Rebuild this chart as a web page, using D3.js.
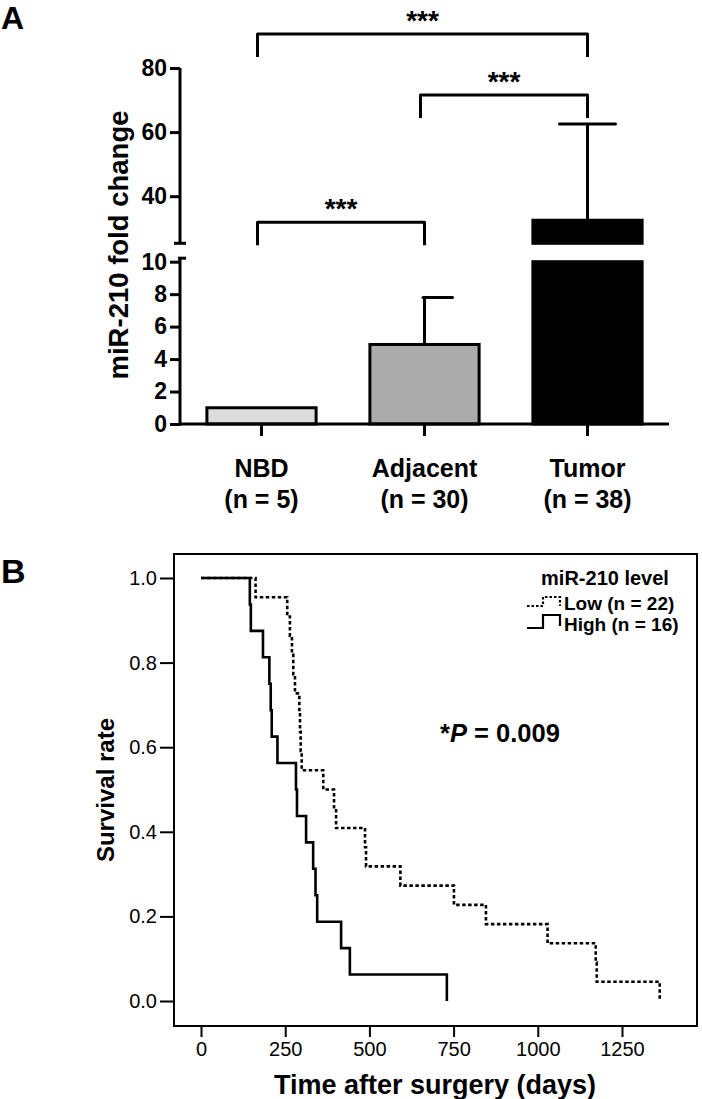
<!DOCTYPE html>
<html><head><meta charset="utf-8">
<script src="https://cdn.jsdelivr.net/npm/d3@7"></script>
<style>
body{margin:0;background:#fff;}
svg{display:block;font-family:Arial,"Liberation Sans",sans-serif;}
</style></head><body>
<svg id="chart" width="702" height="1099"></svg>
<script>
// ---------- Panel A data ----------
const categories = ["NBD", "Adjacent", "Tumor"];
const sampleSizes = ["(n = 5)", "(n = 30)", "(n = 38)"];
const meanFold = [1.0, 4.9, 32.5];
const errorTop = [null, 7.8, 62.5];
const upperTicks = [40, 60, 80];
const lowerTicks = [0, 2, 4, 6, 8, 10];
const sigPairs = [[0, 2], [1, 2], [0, 1]];
const sigLevels = [90.6, 71.6, 31.9];
const sigLabels = ["***", "***", "***"];

// ---------- Panel B data ----------
const highDeaths = [145,148,184,203,207,210,227,282,285,312,333,340,345,416,442,730];
const lowDeaths = [162,256,264,270,274,279,292,294,296,299,363,395,401,487,490,592,751,846,1029,1172,1175,1362];
const survTicks = [0, 0.2, 0.4, 0.6, 0.8, 1.0];
const dayTicks = [0, 250, 500, 750, 1000, 1250];
const groupLabels = ["Low (n = 22)", "High (n = 16)"];

const barFills = ["#dcdcdc", "#ababab", "#000000"];
const svg = d3.select("#chart");

// ================= PANEL A =================
const gA = svg.append("g");
gA.append("text").attr("x", 1).attr("y", 29).attr("font-size", 32).attr("font-weight", "bold").text("A");

const x = d3.scaleBand().domain(categories).range([180, 669]).paddingInner(0.33).paddingOuter(0.165);
const yLow = d3.scaleLinear().domain([0, 10]).range([424, 261.7]);
const yUp = d3.scaleLinear().domain([25.3, 80]).range([243.3, 68]);
const lowMax = yLow.domain()[1], upMin = yUp.domain()[0];

// bars
categories.forEach((c, i) => {
  const v = meanFold[i];
  const bx = x(c), bw = x.bandwidth();
  if (v <= lowMax) {
    gA.append("rect").attr("x", bx).attr("y", yLow(v)).attr("width", bw).attr("height", yLow(0) - yLow(v))
      .attr("fill", barFills[i]).attr("stroke", "#000").attr("stroke-width", 3);
  } else {
    gA.append("rect").attr("x", bx).attr("y", yLow(lowMax)).attr("width", bw).attr("height", yLow(0) - yLow(lowMax))
      .attr("fill", barFills[i]).attr("stroke", "#000").attr("stroke-width", 3);
    gA.append("rect").attr("x", bx).attr("y", yUp(v)).attr("width", bw).attr("height", yUp(upMin) - yUp(v))
      .attr("fill", barFills[i]).attr("stroke", "#000").attr("stroke-width", 3);
  }
});

// error bars
categories.forEach((c, i) => {
  const e = errorTop[i];
  if (e == null) return;
  const cx = x(c) + x.bandwidth() / 2;
  const v = meanFold[i];
  const yb = v <= lowMax ? yLow(v) : yUp(v);
  const ye = e <= lowMax ? yLow(e) : yUp(e);
  gA.append("line").attr("x1", cx).attr("x2", cx).attr("y1", yb).attr("y2", ye).attr("stroke", "#000").attr("stroke-width", 3);
  const left = (i === 1) ? cx - 1.5 : cx - 28;
  gA.append("line").attr("x1", left).attr("x2", cx + 28).attr("y1", ye).attr("y2", ye)
    .attr("stroke", "#000").attr("stroke-width", 3).attr("stroke-linecap", "round");
});

// y axes (broken)
const axL = d3.axisLeft(yLow).tickValues(lowerTicks).tickSize(10).tickPadding(3).tickSizeOuter(0);
const axU = d3.axisLeft(yUp).tickValues(upperTicks).tickSize(10).tickPadding(3).tickSizeOuter(0);
[axL, axU].forEach(ax => {
  const g = gA.append("g").attr("transform", "translate(180,0)").call(ax);
  g.select(".domain").remove();
  g.selectAll(".tick line").attr("stroke", "#000").attr("stroke-width", 3);
  g.selectAll(".tick text").attr("font-size", 23).attr("font-weight", "bold").attr("fill", "#000")
    .attr("font-family", "Arial, 'Liberation Sans', sans-serif");
});
// axis segments
gA.append("line").attr("x1", 180).attr("x2", 180).attr("y1", yLow(0) + 1.5).attr("y2", yLow(lowMax) - 3.5).attr("stroke", "#000").attr("stroke-width", 3);
gA.append("line").attr("x1", 180).attr("x2", 180).attr("y1", yUp(80)).attr("y2", yUp(upMin)).attr("stroke", "#000").attr("stroke-width", 3);
gA.append("line").attr("x1", 174).attr("x2", 186).attr("y1", yUp(upMin)).attr("y2", yUp(upMin)).attr("stroke", "#000").attr("stroke-width", 3);
gA.append("line").attr("x1", 178).attr("x2", 186).attr("y1", yLow(lowMax) - 3.5).attr("y2", yLow(lowMax) - 3.5).attr("stroke", "#000").attr("stroke-width", 3);

// x axis
gA.append("line").attr("x1", 180).attr("x2", 669).attr("y1", 424).attr("y2", 424).attr("stroke", "#000").attr("stroke-width", 3);
categories.forEach((c, i) => {
  const cx = x(c) + x.bandwidth() / 2;
  gA.append("line").attr("x1", cx).attr("x2", cx).attr("y1", 424).attr("y2", 436).attr("stroke", "#000").attr("stroke-width", 3);
  gA.append("text").attr("x", cx).attr("y", 477).attr("text-anchor", "middle").attr("font-size", 25).attr("font-weight", "bold").text(c);
  gA.append("text").attr("x", cx).attr("y", 508).attr("text-anchor", "middle").attr("font-size", 25).attr("font-weight", "bold").text(sampleSizes[i]);
});

// y label
gA.append("text").attr("transform", "translate(128,245) rotate(-90)").attr("text-anchor", "middle")
  .attr("font-size", 27.5).attr("font-weight", "bold").text("miR-210 fold change");

// significance brackets
sigPairs.forEach(([a, b], i) => {
  const xa = x(categories[a]) + x.bandwidth() / 2 - 4;
  const xb = x(categories[b]) + x.bandwidth() / 2;
  const yb = yUp(sigLevels[i]);
  gA.append("path").attr("d", `M${xa},${yb + 23}V${yb}H${xb}V${yb + 23}`)
    .attr("fill", "none").attr("stroke", "#000").attr("stroke-width", 3).attr("stroke-linejoin", "round");
  gA.append("text").attr("x", (xa + xb) / 2).attr("y", yb - 4).attr("text-anchor", "middle")
    .attr("font-size", 28).attr("font-weight", "bold").text(sigLabels[i]);
});

// ================= PANEL B =================
const gB = svg.append("g");
gB.append("text").attr("x", 1).attr("y", 583).attr("font-size", 34).attr("font-weight", "bold").text("B");

const xB = d3.scaleLinear().domain([0, 1250]).range([201, 622]);
const yB = d3.scaleLinear().domain([0, 1]).range([1001, 578]);

gB.append("rect").attr("x", 174).attr("y", 554).attr("width", 523).attr("height", 472)
  .attr("fill", "none").attr("stroke", "#000").attr("stroke-width", 2);

const axYB = gB.append("g").attr("transform", "translate(174,0)")
  .call(d3.axisLeft(yB).tickValues(survTicks).tickFormat(d3.format(".1f")).tickSize(14).tickPadding(3));
axYB.select(".domain").remove();
const axXB = gB.append("g").attr("transform", "translate(0,1026)")
  .call(d3.axisBottom(xB).tickValues(dayTicks).tickFormat(d3.format("d")).tickSize(11).tickPadding(5));
axXB.select(".domain").remove();
[axYB, axXB].forEach(g => {
  g.selectAll(".tick line").attr("stroke", "#000").attr("stroke-width", 2);
  g.selectAll(".tick text").attr("font-size", 20).attr("fill", "#000").attr("font-family", "Arial, 'Liberation Sans', sans-serif");
});

gB.append("text").attr("transform", "translate(114,790) rotate(-90)").attr("text-anchor", "middle")
  .attr("font-size", 24).attr("font-weight", "bold").text("Survival rate");
gB.append("text").attr("x", 435).attr("y", 1094).attr("text-anchor", "middle")
  .attr("font-size", 27).attr("font-weight", "bold").text("Time after surgery (days)");

function kmPoints(deaths) {
  const n = deaths.length;
  const pts = [[0, 1]];
  deaths.forEach((t, k) => pts.push([t, 1 - (k + 1) / n]));
  return pts;
}
const line = d3.line().x(d => xB(d[0])).y(d => yB(d[1])).curve(d3.curveStepAfter);
gB.append("path").attr("d", line(kmPoints(lowDeaths))).attr("fill", "none").attr("stroke", "#000")
  .attr("stroke-width", 2.6).attr("stroke-dasharray", "3.5,2.5");
gB.append("path").attr("d", line(kmPoints(highDeaths))).attr("fill", "none").attr("stroke", "#000")
  .attr("stroke-width", 2.6);

// legend
gB.append("text").attr("x", 605).attr("y", 585).attr("text-anchor", "middle").attr("font-size", 20).attr("font-weight", "bold").text("miR-210 level");
gB.append("path").attr("d", "M527,606H543V597H560V606").attr("fill", "none").attr("stroke", "#000").attr("stroke-width", 2.2).attr("stroke-dasharray", "2.5,2");
gB.append("path").attr("d", "M527,628H543V615H560V626").attr("fill", "none").attr("stroke", "#000").attr("stroke-width", 2.2);
gB.append("text").attr("x", 564).attr("y", 610).attr("font-size", 19).attr("font-weight", "bold").text(groupLabels[0]);
gB.append("text").attr("x", 564).attr("y", 631).attr("font-size", 19).attr("font-weight", "bold").text(groupLabels[1]);

const pText = gB.append("text").attr("x", 440).attr("y", 742).attr("font-size", 25.5).attr("font-weight", "bold");
pText.append("tspan").text("*");
pText.append("tspan").attr("font-style", "italic").text("P");
pText.append("tspan").text(" = 0.009");
</script>
</body></html>
